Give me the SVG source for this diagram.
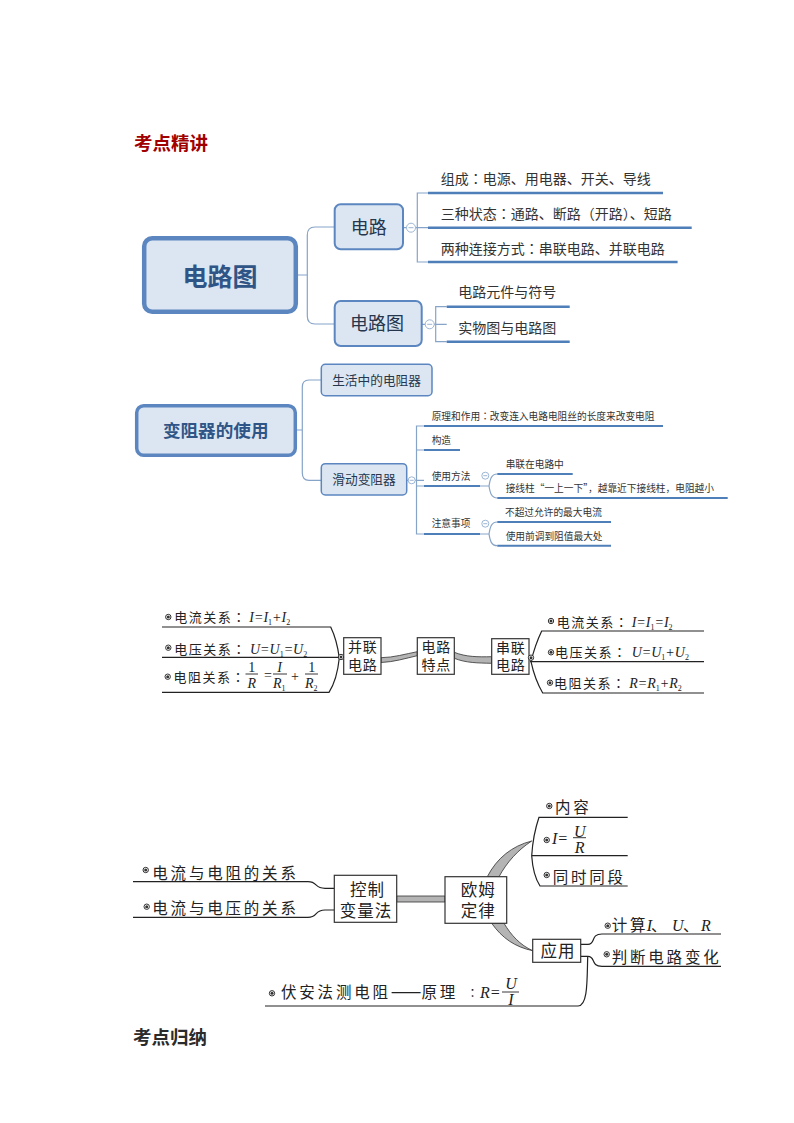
<svg xmlns="http://www.w3.org/2000/svg" width="794" height="1123" viewBox="0 0 794 1123">
<style>
text{font-family:"Noto Sans CJK SC","Noto Sans",sans-serif;fill:#2b2b2b}
.cc{font-family:"Noto Sans CJK TC",sans-serif}
.h{font-size:18.5px;font-weight:700}
.n{fill:#dce6f2;stroke:#5b86c0}
.c{fill:#dce6f2;stroke:#5b86c0;stroke-width:2}
.t{fill:#26364d;text-anchor:middle}
.m{fill:#2f5587;font-weight:700;text-anchor:middle}
.l1{font-size:14px;fill:#333}
.l2{font-size:9.7px;fill:#333}
.u{stroke:#4f7fb8;fill:none}
.br{stroke:#86a3c8;stroke-width:1.2;fill:none}
.tg{fill:#fff;stroke:#9db6d4;stroke-width:1}
.tm{stroke:#9db6d4;stroke-width:1}
.k{fill:none;stroke:#222;stroke-width:1.2}
.band{fill:#b4b4b4;stroke:#333;stroke-width:.8}
.box{fill:#fff;stroke:#333;stroke-width:1.2}
.s{font-size:13px;letter-spacing:1.5px;fill:#222}
.b{font-size:15.5px;letter-spacing:2.8px;fill:#222}
.bx{font-size:14px;letter-spacing:.8px;text-anchor:middle;fill:#222}
.by{font-size:16.5px;letter-spacing:1px;text-anchor:middle;fill:#222}
.f{font-family:"Liberation Serif",serif;font-style:italic;font-size:14px;fill:#222}
.fl{font-family:"Liberation Serif",serif;font-style:italic;font-size:16px;fill:#222}
.fm{text-anchor:middle}
.sb{font-size:8px;font-style:normal}
.bo{fill:#fff;stroke:#333;stroke-width:1}
.bd{fill:#333}
</style>
<defs>
<g id="bullet"><circle r="2.7" class="bo"/><circle r="1.5" class="bd"/></g>
</defs>
<rect width="794" height="1123" fill="#fff"/>
<text class="h" x="134" y="150" style="fill:#a00000">考点精讲</text>
<text class="h" x="133" y="1044">考点归纳</text>

<g id="connectors">
<path class="br" d="M298 275H307.3M334.7 227H315Q307.3 227 307.3 235V316Q307.3 324 315 324H334.7"/>
<path class="br" d="M403 227.7H428M428 193H417.3V262H428M422 324.3H446.7M446.7 306.7H435.7V341.7H446.7"/>
<g class="u" stroke-width="2.6">
<path d="M428 193H663M428 227.7H691.7M428 262H677.6M446.7 306.7H569.7M446.7 341.7H569.7"/>
</g>
<path class="br" d="M296 430H302.3M321.3 380H309Q302.3 380 302.3 387V473Q302.3 480.3 309 480.3H321.3"/>
<path class="br" d="M406.7 480.3H424M424 426H416.5V534H424M416.5 450H424M416.5 486H424"/>
<path class="br" d="M480 486H489M497.3 474C491 474 490 480 489 486C490 492 491 498 497.3 498M480 534H489M497.3 522C491 522 490 528 489 534C490 540 491 545.7 497.3 545.7"/>
<g class="u" stroke-width="2">
<path d="M424 426H663M424 450H460M424 486H480M424 534H480M497.3 474H572.7M497.3 498H727.7M497.3 522H611M497.3 545.7H611"/>
</g>
<path class="k" d="M162 627H330.7Q337 640 339.3 658Q337 680 329 692.3H162M162 657.3H340"/>
<path class="k" d="M704 631H541.7Q535 645 531 661.7Q535 680 542.7 693H704M530 661.7H704"/>
<path class="band" d="M381 657.7C394 657.5 405 654 417.3 651.7V655.7C405 658.5 394 662 381 662.5Z"/>
<path class="band" d="M454.3 652.3C466 657 478 657 491.7 656.7V663.3C478 663 466 663 454.3 658.3Z"/>
<path class="k" d="M133 881.7H308C318 881.7 314 888.3 325 888.3H334.3M133 917.3H308C318 917.3 314 910 325 910H334.3"/>
<path class="band" d="M396.7 896H445V902H396.7Z"/>
<path class="k" d="M627.7 817.3H539Q533 835 531.7 855.7Q533 875 540 886H627.7M531.7 855.7H627.7"/>
<path class="band" d="M487.3 876.7C497 858 512 846 531.7 841C518 850 507 862 499 876.7Z"/>
<path class="band" d="M491.7 923.3C502 938 515 947 532.7 950.7C520 945 511 935 504 923.3Z"/>
<path class="k" d="M580.7 944.3H588C596 944.3 590 934 602 934H721M580.7 956.3H588C596 956.3 590 966.3 602 966.3H721"/>
<path class="k" d="M587.7 957C587 980 588 1006 578 1006H265"/>
</g>

<g id="n-main1"><rect class="n" x="144.2" y="238.2" width="151.6" height="73.6" rx="8" stroke-width="4.5"/><text class="m" x="220" y="286" font-size="25">电路图</text></g>
<g id="n-circuit"><rect class="c" x="334.7" y="204.3" width="68.3" height="45" rx="6"/><text class="t" x="368.7" y="234" font-size="18">电路</text></g>
<g id="n-diagram"><rect class="c" x="334.7" y="301" width="87" height="45" rx="6"/><text class="t" x="377" y="330" font-size="18">电路图</text></g>
<g id="t1"><circle class="tg" cx="411" cy="227.7" r="4.5"/><path class="tm" d="M408.5 227.7H413.5"/></g>
<g id="t2"><circle class="tg" cx="429.7" cy="324.3" r="4.5"/><path class="tm" d="M427.2 324.3H432.2"/></g>
<g id="l1"><text class="l1" x="440.7" y="184">组成<tspan class="cc">&#xFF1A;</tspan>电源、用电器、开关、导线</text></g>
<g id="l2"><text class="l1" x="440.7" y="219">三种状态<tspan class="cc">&#xFF1A;</tspan>通路、断路&#xFF08;开路&#xFF09;、短路</text></g>
<g id="l3"><text class="l1" x="440.7" y="253.5">两种连接方式<tspan class="cc">&#xFF1A;</tspan>串联电路、并联电路</text></g>
<g id="l4"><text class="l1" x="458.3" y="297">电路元件与符号</text></g>
<g id="l5"><text class="l1" x="458.3" y="333">实物图与电路图</text></g>

<g id="n-main2"><rect class="n" x="136.7" y="405.7" width="158.6" height="49.6" rx="7" stroke-width="3.5"/><text class="m" x="215.7" y="437" font-size="17.6">变阻器的使用</text></g>
<g id="n-life"><rect class="c" x="321.3" y="364.3" width="110.7" height="31.4" rx="4" style="stroke-width:1.5"/><text class="t" x="376.6" y="384.5" font-size="12.7">生活中的电阻器</text></g>
<g id="n-slide"><rect class="c" x="321.3" y="463.7" width="85.4" height="31.3" rx="4" style="stroke-width:1.5"/><text class="t" x="364" y="484" font-size="12.7">滑动变阻器</text></g>
<g id="t3"><circle class="tg" cx="411.7" cy="480.3" r="3.5"/><path class="tm" d="M409.7 480.3H413.7"/></g>
<g id="t4"><circle class="tg" cx="485.3" cy="475.7" r="3.5"/><path class="tm" d="M483.3 475.7H487.3"/></g>
<g id="t5"><circle class="tg" cx="485.3" cy="523.7" r="3.5"/><path class="tm" d="M483.3 523.7H487.3"/></g>
<g id="s1"><text class="l2" x="431.7" y="420">原理和作用<tspan class="cc">&#xFF1A;</tspan>改变连入电路电阻丝的长度来改变电阻</text></g>
<g id="s2"><text class="l2" x="431.7" y="444">构造</text></g>
<g id="s3"><text class="l2" x="431.7" y="480">使用方法</text></g>
<g id="s4"><text class="l2" x="431.7" y="527">注意事项</text></g>
<g id="s5"><text class="l2" x="505.7" y="468">串联在电路中</text></g>
<g id="s6"><text class="l2" x="505.7" y="492">接线柱<tspan class="cc">&#x201C;</tspan>一上一下<tspan class="cc">&#x201D;</tspan>&#xFF0C;越靠近下接线柱&#xFF0C;电阻越小</text></g>
<g id="s7"><text class="l2" x="505" y="516">不超过允许的最大电流</text></g>
<g id="s8"><text class="l2" x="505.7" y="540">使用前调到阻值最大处</text></g>

<g id="n-par"><rect class="box" x="343.7" y="637.7" width="37.3" height="36.6"/><text class="bx"><tspan x="362.7" y="652">并联</tspan><tspan x="362.7" y="669.5">电路</tspan></text></g>
<g id="n-feat"><rect class="box" x="417.3" y="637.7" width="37" height="36.6"/><text class="bx"><tspan x="436.2" y="652">电路</tspan><tspan x="436.2" y="669.5">特点</tspan></text></g>
<g id="n-ser"><rect class="box" x="491.7" y="638.7" width="37.3" height="35.6"/><text class="bx"><tspan x="510.7" y="652.5">串联</tspan><tspan x="510.7" y="670">电路</tspan></text></g>
<use href="#bullet" x="341" y="657"/><use href="#bullet" x="531" y="657.7"/>

<g id="p1"><use href="#bullet" x="168.3" y="617"/><text class="s" x="174.3" y="622">电流关系<tspan class="cc">&#xFF1A;</tspan></text><text class="f" x="249.3" y="621.7">I=I<tspan class="sb" dy="3">1</tspan><tspan dy="-3">+I</tspan><tspan class="sb" dy="3">2</tspan></text></g>
<g id="p2"><use href="#bullet" x="168.3" y="647.7"/><text class="s" x="174.3" y="653.7">电压关系<tspan class="cc">&#xFF1A;</tspan></text><text class="f" x="250" y="653.7">U=U<tspan class="sb" dy="3">1</tspan><tspan dy="-3">=U</tspan><tspan class="sb" dy="3">2</tspan></text></g>
<g id="p3"><use href="#bullet" x="167.7" y="676.7"/><text class="s" x="173.5" y="681.5">电阻关系<tspan class="cc">&#xFF1A;</tspan></text>
<path d="M245.5 674H258M273 674H287M305 674H318" stroke="#222" stroke-width=".9" fill="none"/>
<text class="f fm" x="251.7" y="671.7" style="font-style:normal">1</text><text class="f fm" x="251.7" y="688.3">R</text>
<text class="f" x="264" y="680" style="font-style:normal">=</text>
<text class="f fm" x="279.5" y="671.7">I</text><text class="f" x="273" y="688.3">R<tspan class="sb" dy="3">1</tspan></text>
<text class="f fm" x="295" y="681" style="font-style:normal">+</text>
<text class="f fm" x="311.7" y="671.7" style="font-style:normal">1</text><text class="f" x="305" y="688.3">R<tspan class="sb" dy="3">2</tspan></text></g>

<g id="q1"><use href="#bullet" x="551" y="621"/><text class="s" x="556.7" y="626.7">电流关系<tspan class="cc">&#xFF1A;</tspan></text><text class="f" x="631.7" y="626.7">I=I<tspan class="sb" dy="3">1</tspan><tspan dy="-3">=I</tspan><tspan class="sb" dy="3">2</tspan></text></g>
<g id="q2"><use href="#bullet" x="551" y="652.3"/><text class="s" x="555" y="657.3">电压关系<tspan class="cc">&#xFF1A;</tspan></text><text class="f" x="631.7" y="657.3">U=U<tspan class="sb" dy="3">1</tspan><tspan dy="-3">+U</tspan><tspan class="sb" dy="3">2</tspan></text></g>
<g id="q3"><use href="#bullet" x="550" y="682.7"/><text class="s" x="554" y="688.3">电阻关系<tspan class="cc">&#xFF1A;</tspan></text><text class="f" x="629.3" y="688.3">R=R<tspan class="sb" dy="3">1</tspan><tspan dy="-3">+R</tspan><tspan class="sb" dy="3">2</tspan></text></g>

<g id="n-ctrl"><rect class="box" x="334.3" y="875.3" width="62.4" height="47"/><text class="by"><tspan x="367.5" y="896">控制</tspan><tspan x="366" y="917">变量法</tspan></text></g>
<g id="n-ohm"><rect class="box" x="445" y="876.7" width="61.7" height="46.6"/><text class="by"><tspan x="478.3" y="896">欧姆</tspan><tspan x="478.3" y="917">定律</tspan></text></g>
<g id="n-app"><rect class="box" x="532.7" y="939.3" width="48" height="23"/><text class="by" x="558" y="957.3">应用</text></g>

<g id="r1"><use href="#bullet" x="145.7" y="870"/><text class="b" x="152.3" y="879">电流与电阻的关系</text></g>
<g id="r2"><use href="#bullet" x="146.7" y="906.7"/><text class="b" x="152.3" y="914">电流与电压的关系</text></g>
<g id="r3"><use href="#bullet" x="272" y="993.3"/><text class="b" x="281" y="998">伏安法测电阻<tspan style="letter-spacing:0;font-size:18.3px">&#x2014;&#x2014;</tspan>原理</text><text class="cc" x="466.5" y="998" style="font-size:12px;fill:#222">&#xFF1A;</text><text class="fl" x="480" y="998">R=</text>
<path d="M502 992H519" stroke="#222" stroke-width=".9"/><text class="fl fm" x="511" y="989">U</text><text class="fl fm" x="511" y="1005">I</text></g>
<g id="r4"><use href="#bullet" x="549.3" y="806"/><text class="b" x="555" y="813">内容</text></g>
<g id="r5"><use href="#bullet" x="546.7" y="840"/><text class="fl" x="552" y="844.3">I=</text><path d="M573 837.7H586" stroke="#222" stroke-width=".9"/><text class="fl fm" x="579.7" y="836.7">U</text><text class="fl fm" x="579.7" y="853">R</text></g>
<g id="r6"><use href="#bullet" x="546.7" y="875"/><text class="b" x="552.7" y="883.3">同时同段</text></g>
<g id="r7"><use href="#bullet" x="607.7" y="925.7"/><text class="b" x="611.7" y="930.7">计算</text><text class="fl" x="646.7" y="930.7">I</text><text class="b" x="651" y="930.7">&#x3001;</text><text class="fl" x="672" y="930.7">U</text><text class="b" x="683" y="930.7">&#x3001;</text><text class="fl" x="701" y="930.7">R</text></g>
<g id="r8"><use href="#bullet" x="606.7" y="954.3"/><text class="b" x="611.7" y="962.7">判断电路变化</text></g>
</svg>
